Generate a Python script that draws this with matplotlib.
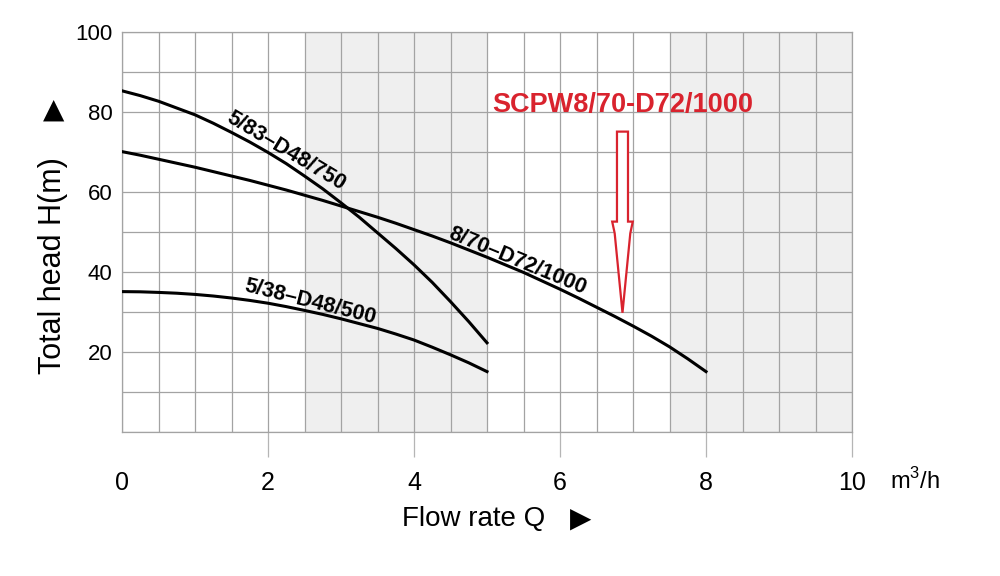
#!/usr/bin/env python3
"""
Pump performance curves: total head vs flow rate for three SCPW pumps.
"""

import matplotlib.pyplot as plt
from matplotlib.patches import Polygon
import numpy as np

# Curve data (flow in m3/h, head in m)
q_750 = [0, 0.25, 0.5, 0.75, 1, 1.25, 1.5, 1.75, 2, 2.25, 2.5, 2.75, 3,
         3.25, 3.5, 3.75, 4, 4.25, 4.5, 4.75, 5]
h_750 = [85.3, 84.1, 82.7, 81.0, 79.3, 77.2, 74.9, 72.5, 69.9, 67.1, 64.0,
         60.8, 57.3, 53.7, 49.8, 45.9, 41.8, 37.4, 32.6, 27.6, 22.3]

q_1000 = [0, 0.25, 0.5, 0.75, 1, 1.25, 1.5, 1.75, 2, 2.25, 2.5, 2.75, 3,
          3.25, 3.5, 3.75, 4, 4.25, 4.5, 4.75, 5, 5.25, 5.5, 5.75, 6,
          6.25, 6.5, 6.75, 7, 7.25, 7.5, 7.75, 8]
h_1000 = [70.1, 69.2, 68.2, 67.2, 66.2, 65.1, 64.0, 62.9, 61.7, 60.5, 59.2,
          57.9, 56.5, 55.1, 53.7, 52.2, 50.6, 49.0, 47.3, 45.5, 43.7, 41.8,
          39.9, 37.8, 35.7, 33.5, 31.2, 28.9, 26.5, 24.0, 21.3, 18.3, 15.1]

q_500 = [0, 0.25, 0.5, 0.75, 1, 1.25, 1.5, 1.75, 2, 2.25, 2.5, 2.75, 3,
         3.25, 3.5, 3.75, 4, 4.25, 4.5, 4.75, 5]
h_500 = [35.1, 35.05, 34.9, 34.7, 34.4, 34.0, 33.5, 32.9, 32.2, 31.35, 30.4,
         29.4, 28.3, 27.1, 25.9, 24.5, 23.0, 21.2, 19.3, 17.3, 15.1]

curve_names = ['5/83–D48/750', '8/70–D72/1000', '5/38–D48/500']
highlight = 'SCPW8/70-D72/1000'

x_ticks = [0, 2, 4, 6, 8, 10]
y_ticks = [20, 40, 60, 80, 100]
shaded_bands = [(2.5, 5), (7.5, 10)]

RED = '#d9232e'
GRID = '#a3a3a3'
FONT = ['Liberation Sans', 'DejaVu Sans']


def main():
    plt.rcParams['font.family'] = FONT

    fig = plt.figure(figsize=(10, 5.76), dpi=100)
    ax = fig.add_axes([0.122, 0.25, 0.73, 0.6944])

    for lo, hi in shaded_bands:
        ax.axvspan(lo, hi, color='#efefef', zorder=0, lw=0)

    ax.set_xlim(0, 10)
    ax.set_ylim(0, 100)
    ax.set_xticks(x_ticks)
    ax.set_xticks(np.arange(0, 10.01, 0.5), minor=True)
    ax.set_yticks(y_ticks)
    ax.set_yticks(np.arange(0, 100.1, 10), minor=True)
    ax.grid(True, which='both', color=GRID, lw=0.9, zorder=0.5)
    ax.set_axisbelow(True)

    ax.tick_params(axis='x', which='major', length=18, width=0.9,
                   color='#b5b5b5', labelsize=18, pad=10)
    ax.tick_params(axis='y', which='major', length=0, labelsize=16, pad=7)
    ax.tick_params(which='minor', length=0)
    ax.xaxis.get_major_ticks()[0].tick1line.set_visible(False)
    for s in ax.spines.values():
        s.set_color(GRID)
        s.set_linewidth(0.9)

    # curves
    lw = 2.2
    ax.plot(q_750, h_750, color='black', lw=lw, zorder=3)
    ax.plot(q_1000, h_1000, color='black', lw=lw, zorder=3)
    ax.plot(q_500, h_500, color='black', lw=lw, zorder=3)

    lab = dict(fontsize=15.5, fontweight='bold', ha='center', va='center',
               rotation_mode='anchor', zorder=4)
    ax.text(2.25, 70.2, curve_names[0], rotation=-31, **lab)
    ax.text(5.42, 42.8, curve_names[1], rotation=-22.5, **lab)
    ax.text(2.58, 32.6, curve_names[2], rotation=-14, **lab)

    # highlighted model with hollow arrow
    ax.text(6.86, 81.8, highlight, color=RED, fontsize=19.5,
            fontweight='bold', ha='center', va='center', zorder=4)
    xc, sw, hw = 6.856, 0.0755, 0.141
    top, base, lip, tip = 75.1, 52.6, 49.7, 29.8
    arrow = Polygon([(xc - sw, top), (xc + sw, top), (xc + sw, base),
                     (xc + hw, base), (xc + hw - 0.034, lip), (xc, tip),
                     (xc - hw + 0.034, lip), (xc - hw, base), (xc - sw, base)],
                    closed=True, facecolor='white', edgecolor=RED, lw=1.6,
                    zorder=4)
    ax.add_patch(arrow)

    # axis titles
    fig.text(0.053, 1 - 266 / 576, 'Total head H(m)', rotation=90,
             fontsize=22, ha='center', va='center')
    fig.text(0.054, 1 - 110 / 576, '▲', fontsize=20, ha='center',
             va='center', family=['DejaVu Sans'])
    fig.text(0.474, 1 - 519 / 576, 'Flow rate Q', fontsize=20,
             ha='center', va='center')
    fig.text(0.581, 1 - 519 / 576, '▶', fontsize=20, ha='center',
             va='center', family=['DejaVu Sans'])
    fig.text(0.915, 1 - 481 / 576, r'm$^\mathregular{3}$/h', fontsize=17,
             ha='center', va='center')

    fig.savefig('out.png', dpi=100)


if __name__ == '__main__':
    main()
